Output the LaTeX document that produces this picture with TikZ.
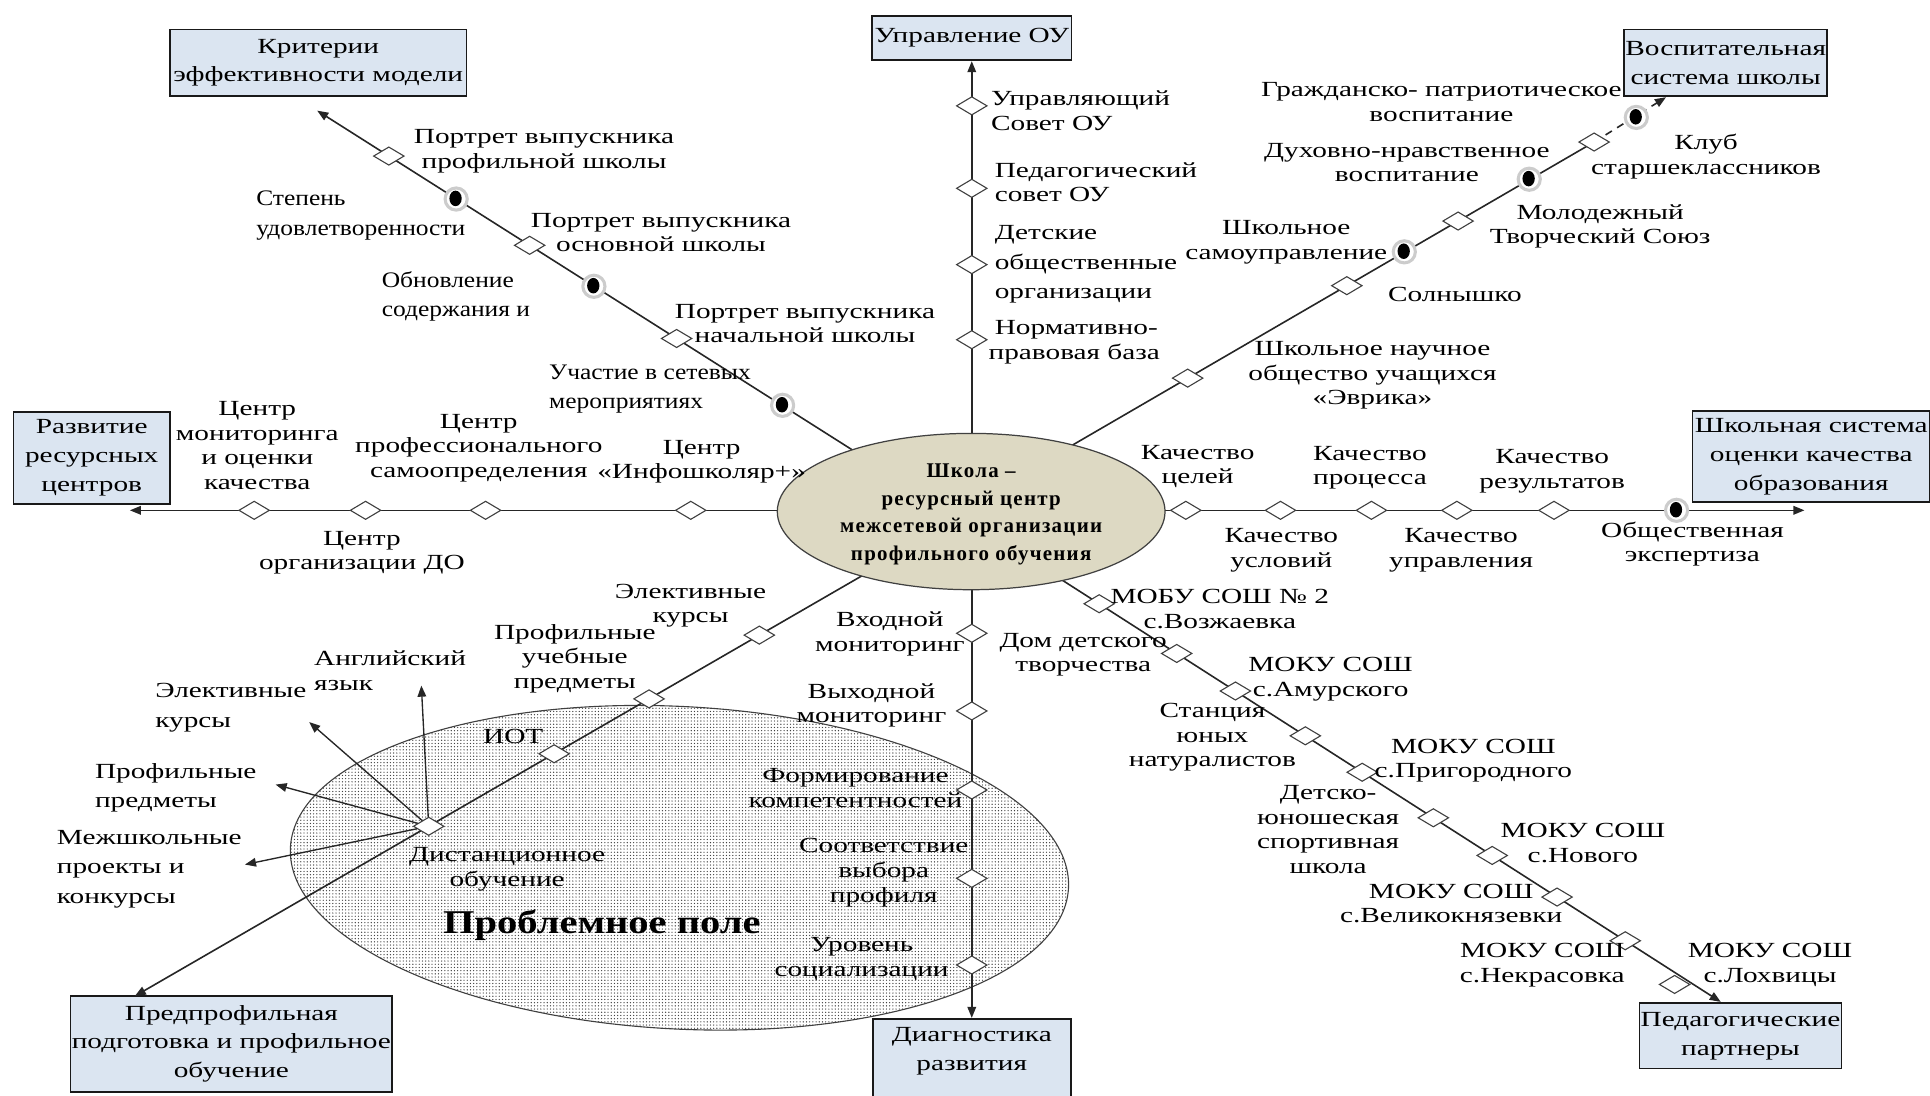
\documentclass[tikz,border=0pt]{standalone}
\usepackage{fontspec}
\setmainfont{Liberation Serif}[FakeStretch=1.36]
\newfontfamily\condfam{Liberation Serif}[FakeStretch=1.15]
\newfontfamily\ctrfam{Liberation Serif}[LetterSpace=6]
\newfontfamily\probfam{Liberation Serif}[FakeStretch=1.22]
\usetikzlibrary{shapes.geometric,arrows.meta,patterns.meta}
\definecolor{boxblue}{HTML}{DBE5F1}
\definecolor{tanc}{HTML}{DDD9C3}
\newcommand\labfont{\fontsize{17.5}{20}\selectfont}
\newcommand\labfontw{\fontsize{17.5}{24}\selectfont}
\newcommand\cndfont{\condfam\fontsize{18}{24}\selectfont}
\newcommand\boxfont{\fontsize{17.5}{23.5}\selectfont}
\newcommand\ctrfont{\ctrfam\bfseries\fontsize{17}{22.5}\selectfont}
\newcommand\pfont{\probfam\bfseries\fontsize{27}{30}\selectfont}
\begin{document}
\begin{tikzpicture}[x=1pt,y=-1pt,
  bx/.style={draw=black!90, line width=1.4pt, fill=boxblue, align=center, inner sep=1pt, font=\boxfont},
  lab/.style={inner sep=0pt, align=center, font=\labfont},
  labl/.style={inner sep=0pt, align=left, font=\labfont, anchor=west},
  spoke/.style={draw=black!85, line width=1.3pt},
  arr/.style={-{Triangle[length=9pt,width=7pt]}},
  dia/.style={diamond, draw=black!75, fill=white, line width=0.9pt, minimum width=25pt, minimum height=15pt, inner sep=0pt},
  mdot/.style={circle, fill=white, draw=black!20, line width=2.5pt, minimum size=18pt, inner sep=0pt,
     path picture={\fill[black] ([xshift=-0.5pt,yshift=0.5pt]path picture bounding box.center) ellipse [x radius=5pt, y radius=6.3pt];}}]
\useasboundingbox (0,0) rectangle (1568,890);

% problem field
\draw[pattern={Dots[distance=2.6pt, radius=0.55pt]}, pattern color=black!75, draw=black!75, line width=0.9pt, rotate around={-3:(552,705)}] (552,705) ellipse [x radius=316.5, y radius=131];

% boxes
\node[bx, minimum width=241pt, minimum height=54pt] (b1) at (258.5,51) {Критерии\\эффективности модели};
\node[bx, minimum width=162pt, minimum height=36pt] (b2) at (789.5,31) {Управление ОУ};
\node[bx, minimum width=161pt, minimum height=54pt] (b3) at (1402,51) {Воспитательная\\система школы};
\node[bx, minimum width=127pt, minimum height=75pt] (b4) at (74.5,372) {Развитие\\ресурсных\\центров};
\node[bx, minimum width=193pt, minimum height=74pt] (b5) at (1471.5,371) {Школьная система\\оценки качества\\образования};
\node[bx, minimum width=254pt, minimum height=78pt] (b6) at (188,848) {Предпрофильная\\подготовка и профильное\\обучение};
\node[bx, minimum width=161pt, minimum height=90pt, anchor=north] (b7) at (789.5,827) {};
\node[lab, font=\boxfont] (b7t) at (789.5,854) {Диагностика\\развития};
\node[bx, minimum width=160pt, minimum height=53pt] (b8) at (1414,841.5) {Педагогические\\партнеры};

% spoke coordinates
\coordinate (upS) at (789.5,415);
\coordinate (dnS) at (789.5,415);
\coordinate (lfS) at (700,414.6);  \coordinate (lfT) at (105.5,414.6);
\coordinate (rtS) at (880,414.6);  \coordinate (rtT) at (1466,414.6);
\coordinate (ulS) at (720,383.0);  \coordinate (ulT) at (257.7,89.9);
\coordinate (urS) at (850,374.0);  \coordinate (urM) at (1295.1,115.4); \coordinate (urT) at (1353.5,79);
\coordinate (llS) at (720,456.4);  \coordinate (llT) at (109.5,809.3);
\coordinate (lrS) at (840,456.6);  \coordinate (lrT) at (1398,814);

\draw[spoke,arr] (upS) -- (b2);
\draw[spoke,arr] (dnS) -- (b7);
\draw[spoke,arr] (lfS) -- (lfT);
\draw[spoke,arr] (rtS) -- (rtT);
\draw[spoke,arr] (ulS) -- (ulT);
\draw[spoke] (urS) -- (urM);
\draw[spoke,arr,dash pattern=on 6pt off 5pt] (urM) -- (urT);
\draw[spoke,arr] (llS) -- (llT);
\draw[spoke,arr] (lrS) -- (lrT);

% center
\node[ellipse, draw=black!75, line width=1pt, fill=tanc, minimum width=315pt, minimum height=127pt, inner sep=0pt] (c) at (789,415.6) {};
\node[inner sep=0pt, align=center, font=\ctrfont] (ct) at (789,418) {Школа –\\ресурсный центр\\межсетевой организации\\профильного обучения};

% diamonds
\foreach \x/\y [count=\i] in {789.5/86, 789.5/153, 789.5/215, 789.5/276}
  \node[dia] (du\i) at (\x,\y) {};
\foreach \x/\y [count=\i] in {789.5/514.5, 789.5/577.6, 789.5/641.8, 789.5/713.6, 789.5/784}
  \node[dia] (dd\i) at (\x,\y) {};
\foreach \x/\y [count=\i] in {561.2/414.6, 394.5/414.6, 297/414.6, 206.5/414.6}
  \node[dia] (dl\i) at (\x,\y) {};
\foreach \x/\y [count=\i] in {963.4/414.6, 1040.3/414.6, 1114.2/414.6, 1183.6/414.6, 1262.5/414.6}
  \node[dia] (dr\i) at (\x,\y) {};
\foreach \x/\y [count=\i] in {315.9/126.8, 430.3/199.3, 549.7/275.0}
  \node[dia] (dul\i) at (\x,\y) {};
\foreach \x/\y [count=\i] in {964.9/307.2, 1094.2/232.1, 1184.6/179.6, 1295.1/115.4}
  \node[dia] (dur\i) at (\x,\y) {};
\foreach \x/\y [count=\i] in {616.9/516, 527.3/567.8, 450.2/612.4, 348.3/671.3}
  \node[dia] (dll\i) at (\x,\y) {};
\foreach \x/\y [count=\i] in {893/490.5, 956/530.9, 1003.7/561.4, 1060.5/597.8, 1106.7/627.4, 1164.5/664.4, 1212.3/695.0, 1265/728.8, 1320.4/764.3, 1360.5/799.8}
  \node[dia] (dlr\i) at (\x,\y) {};

% dots
\node[mdot] (m1) at (1362.1,414.6) {};
\node[mdot] (m2) at (370.6,161.7) {};
\node[mdot] (m3) at (482.5,232.6) {};
\node[mdot] (m4) at (635.8,329.3) {};
\node[mdot] (m5) at (1140.9,204.6) {};
\node[mdot] (m6) at (1242.4,145.6) {};
\node[mdot] (m7) at (1329.4,95.4) {};

% hub arrows
\coordinate (hA) at (342.3,557);
\coordinate (hB) at (251.2,586.6);
\coordinate (hC) at (223.9,637.4);
\coordinate (hD) at (199,702.4);
\draw[spoke,arr,line width=1.1pt] (dll4) -- (hA);
\draw[spoke,arr,line width=1.1pt] (dll4) -- (hB);
\draw[spoke,arr,line width=1.1pt] (dll4) -- (hC);
\draw[spoke,arr,line width=1.1pt] (dll4) -- (hD);

% labels upper-left
\node[lab] (t1) at (442,123) {Портрет выпускника\\профильной школы};
\node[labl, font=\cndfont] (t2) at (208,175) {Степень\\удовлетворенности};
\node[lab] (t3) at (537,189) {Портрет выпускника\\основной школы};
\node[labl, font=\cndfont] (t4) at (310,241) {Обновление\\содержания и};
\node[lab] (t5) at (654,263) {Портрет выпускника\\начальной школы};
\node[labl, font=\cndfont] (t6) at (446,316) {Участие в сетевых\\мероприятиях};

% labels left
\node[lab] (t7) at (209,362) {Центр\\мониторинга\\и оценки\\качества};
\node[lab] (t8) at (389,364) {Центр\\профессионального\\самоопределения};
\node[lab] (t9) at (570,375) {Центр\\«Инфошколяр+»};
\node[lab] (t10) at (294,449) {Центр\\организации ДО};

% labels right
\node[lab] (t11) at (973,379) {Качество\\целей};
\node[lab] (t12) at (1113,380) {Качество\\процесса};
\node[lab] (t13) at (1261,383) {Качество\\результатов};
\node[lab] (t14) at (1041,447) {Качество\\условий};
\node[lab] (t15) at (1187,447) {Качество\\управления};
\node[lab] (t16) at (1375,442) {Общественная\\экспертиза};

% labels up
\node[labl] (t17) at (805,90) {Управляющий\\Совет ОУ};
\node[labl] (t18) at (808,148) {Педагогический\\совет ОУ};
\node[labl, font=\labfontw] (t19) at (808,215) {Детские\\общественные\\организации};
\node[labl] (t20) at (803,278) {\hspace*{5pt}Нормативно-\\правовая база};

% labels down
\node[lab] (t21) at (723,515) {Входной\\мониторинг};
\node[lab] (t22) at (708,573) {Выходной\\мониторинг};
\node[lab] (t23) at (695,640) {Формирование\\компетентностей};
\node[lab] (t24) at (718,709) {Соответствие\\выбора\\профиля};
\node[lab] (t25) at (700,779) {Уровень\\социализации};

% labels upper-right
\node[lab] (t26) at (1171,83) {Гражданско- патриотическое\\воспитание};
\node[lab] (t27) at (1143,132) {Духовно-нравственное\\воспитание};
\node[lab] (t28) at (1386,127) {Клуб\\старшеклассников};
\node[lab] (t29) at (1045,197) {Школьное\\самоуправление};
\node[lab] (t30) at (1300,184) {Молодежный\\Творческий Союз};
\node[lab] (t31) at (1182,239) {Солнышко};
\node[lab] (t32) at (1115,305) {Школьное научное\\общество учащихся\\«Эврика»};

% labels lower-left
\node[lab] (t33) at (561,492) {Элективные\\курсы};
\node[lab] (t34) at (467,535) {Профильные\\учебные\\предметы};
\node[lab] (t35) at (417,598) {ИОТ};
\node[labl] (t36) at (255,545) {Английский\\язык};
\node[labl, font=\labfontw] (t37) at (126,575) {Элективные\\курсы};
\node[labl, font=\labfontw] (t38) at (77,640) {Профильные\\предметы};
\node[labl, font=\labfontw] (t39) at (46,706) {Межшкольные\\проекты и\\конкурсы};
\node[lab] (t40) at (412,706) {Дистанционное\\обучение};
\node[inner sep=0pt, font=\pfont] (t41) at (489,752) {Проблемное поле};

% labels lower-right
\node[lab] (t42) at (991,495) {МОБУ СОШ № 2\\с.Возжаевка};
\node[lab] (t43) at (880,532) {Дом детского\\творчества};
\node[lab] (t44) at (1081,552) {МОКУ СОШ\\с.Амурского};
\node[lab] (t45) at (985,599) {Станция\\юных\\натуралистов};
\node[lab] (t46) at (1197,618) {МОКУ СОШ\\с.Пригородного};
\node[lab] (t47) at (1079,674) {Детско-\\юношеская\\спортивная\\школа};
\node[lab] (t48) at (1286,685) {МОКУ СОШ\\с.Нового};
\node[lab] (t49) at (1179,734) {МОКУ СОШ\\с.Великокнязевки};
\node[lab] (t50) at (1253,784) {МОКУ СОШ\\с.Некрасовка};
\node[lab] (t51) at (1438,784) {МОКУ СОШ\\с.Лохвицы};
\end{tikzpicture}
\end{document}
